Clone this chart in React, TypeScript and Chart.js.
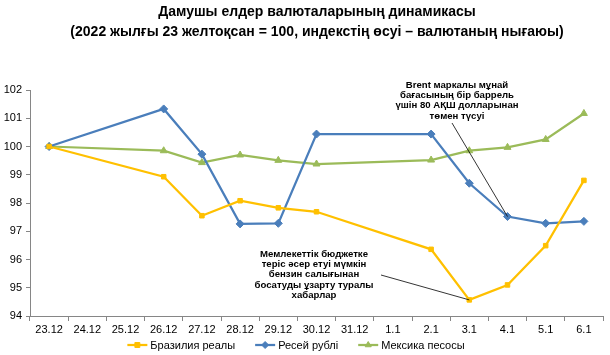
import React, { useEffect, useRef } from "react";
import { Chart, registerables } from "chart.js";
import { drawPoint } from "chart.js/helpers";

Chart.register(...registerables);

const categories = ["23.12", "24.12", "25.12", "26.12", "27.12", "28.12", "29.12", "30.12", "31.12", "1.1", "2.1", "3.1", "4.1", "5.1", "6.1"];
const brazil = [100, null, null, 98.93, 97.55, 98.08, 97.83, 97.69, null, null, 96.36, 94.57, 95.1, 96.49, 98.8];
const russia = [100, null, null, 101.33, 99.73, 97.26, 97.28, 100.44, null, null, 100.44, 98.7, 97.52, 97.28, 97.35];
const mexico = [100, null, null, 99.85, 99.43, 99.7, 99.51, 99.38, null, null, 99.52, 99.85, 99.97, 100.25, 101.17];
const seriesNames = ["Бразилия реалы", "Ресей рублі", "Мексика песосы"];
const titleLines = ["Дамушы елдер валюталарының динамикасы", "(2022 жылғы 23 желтоқсан = 100, индекстің өсуі – валютаның нығаюы)"];
const note1 = ["Brent маркалы мұнай", "бағасының бір баррель", "үшін 80 АҚШ долларынан", "төмен түсуі"];
const note2 = ["Мемлекеттік бюджетке", "теріс әсер етуі мүмкін", "бензин салығынан", "босатуды ұзарту туралы", "хабарлар"];

const colors = ["#FFC000", "#4A7EBB", "#9BBB59"];
const styles = ["rect", "rectRot", "triangle"];
const font = "'Liberation Sans', Arial, sans-serif";

const overlay = {
  id: "overlay",
  afterDraw(chart: any) {
    const ctx = chart.ctx;
    const xs = chart.scales.x;
    const ys = chart.scales.y;
    ctx.save();
    ctx.fillStyle = "#000";
    ctx.textAlign = "center";
    ctx.textBaseline = "middle";
    ctx.font = `bold 14px ${font}`;
    ctx.fillText(titleLines[0], 317, 12);
    ctx.fillText(titleLines[1], 317, 32);

    ctx.font = `bold 9.6px ${font}`;
    note1.forEach((t, i) => ctx.fillText(t, 457, 85 + i * 10.4));
    note2.forEach((t, i) => ctx.fillText(t, 314, 254 + i * 10.4));
    ctx.strokeStyle = "#000";
    ctx.lineWidth = 0.8;
    ctx.beginPath();
    ctx.moveTo(452, 123);
    ctx.lineTo(xs.getPixelForValue(12), ys.getPixelForValue(russia[12]));
    ctx.moveTo(381, 275);
    ctx.lineTo(xs.getPixelForValue(11), ys.getPixelForValue(brazil[11]));
    ctx.stroke();

    ctx.font = `11px ${font}`;
    ctx.textAlign = "left";
    const lineW = 20;
    const textGap = 3;
    const gap = 20;
    const widths = seriesNames.map((n) => ctx.measureText(n).width);
    const total = widths.reduce((a, w) => a + lineW + textGap + w, 0) + gap * (seriesNames.length - 1);
    let x = 296 - total / 2;
    const y = 345;
    seriesNames.forEach((n, i) => {
      ctx.strokeStyle = colors[i];
      ctx.fillStyle = colors[i];
      ctx.lineWidth = 2.25;
      ctx.beginPath();
      ctx.moveTo(x, y);
      ctx.lineTo(x + lineW, y);
      ctx.stroke();
      ctx.lineWidth = 1;
      drawPoint(ctx, { pointStyle: styles[i], radius: 3.5, borderWidth: 1, rotation: 0 } as any, x + lineW / 2, y);
      ctx.fillStyle = "#000";
      ctx.fillText(n, x + lineW + textGap, y + 0.5);
      x += lineW + textGap + widths[i] + gap;
    });
    ctx.restore();
  },
};

export default function App() {
  const ref = useRef<HTMLCanvasElement>(null);
  useEffect(() => {
    const mk = (label: string, data: any[], i: number, r: number) => ({
      label,
      data,
      borderColor: colors[i],
      backgroundColor: colors[i],
      borderWidth: 2.25,
      pointStyle: styles[i],
      pointRadius: r,
      pointBorderWidth: 1,
      spanGaps: true,
      tension: 0,
    });
    const chart = new Chart(ref.current as HTMLCanvasElement, {
      type: "line",
      data: {
        labels: categories,
        datasets: [
          mk(seriesNames[0], brazil, 0, 3.2),
          mk(seriesNames[1], russia, 1, 4),
          mk(seriesNames[2], mexico, 2, 4),
        ],
      },
      options: {
        responsive: false,
        animation: false,
        layout: { padding: { left: 0, right: 7, top: 90, bottom: 20 } },
        plugins: { legend: { display: false }, title: { display: false }, tooltip: { enabled: false } },
        scales: {
          x: {
            offset: true,
            grid: { display: true, offset: true, drawOnChartArea: false, drawTicks: true, tickLength: 5, color: "#868686" },
            border: { color: "#868686", width: 1 },
            ticks: { color: "#000", font: { family: font, size: 11 }, padding: 2, maxRotation: 0, autoSkip: false },
            afterFit: (s: any) => { s.height = 19; },
          },
          y: {
            min: 94,
            max: 102,
            grid: { display: true, drawOnChartArea: false, drawTicks: true, tickLength: 4, color: "#868686" },
            border: { color: "#868686", width: 1 },
            ticks: { stepSize: 1, color: "#000", font: { family: font, size: 11 }, padding: 4 },
            afterFit: (s: any) => { s.width = 30; },
          },
        },
      },
      plugins: [overlay],
    });
    return () => chart.destroy();
  }, []);
  return (
    <div style={{ position: "fixed", left: 0, top: 0, width: 610, height: 355, background: "#fff" }}>
      <canvas ref={ref} width={610} height={355} />
    </div>
  );
}
